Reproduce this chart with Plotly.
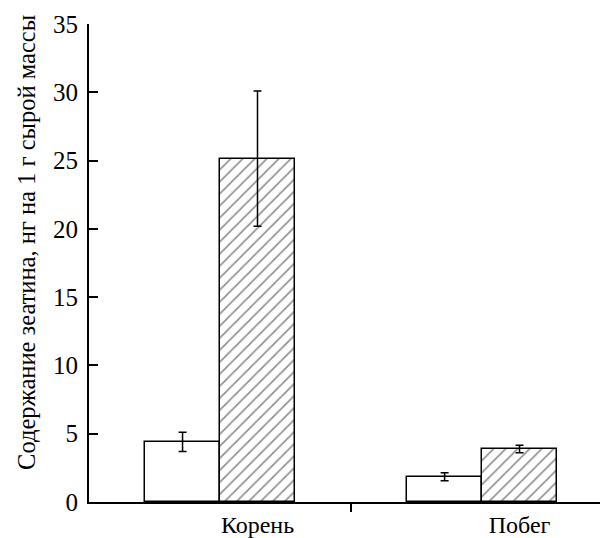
import plotly.graph_objects as go

categories = ["Корень", "Побег"]
control_vals = [4.4, 1.85]
control_err = [0.7, 0.3]
treated_vals = [25.15, 3.88]
treated_err = [4.95, 0.27]
y_ticks = [0, 5, 10, 15, 20, 25, 30, 35]
y_title = "Содержание зеатина, нг на 1 г сырой массы"

bar_w = 0.286
gx = list(range(len(categories)))
x_ctrl = [g - bar_w / 2 for g in gx]
x_trt = [g + bar_w / 2 for g in gx]

font = "'Liberation Serif', 'Times New Roman', serif"

fig = go.Figure()
fig.add_trace(go.Bar(
    x=x_ctrl, y=control_vals, width=bar_w,
    marker=dict(color="white", line=dict(color="black", width=1.5)),
    error_y=dict(type="data", array=control_err, color="black", thickness=1.5, width=4),
    showlegend=False,
))
fig.add_trace(go.Bar(
    x=x_trt, y=treated_vals, width=bar_w,
    marker=dict(color="white", line=dict(color="black", width=1.5),
                pattern=dict(shape="/", size=8.5, solidity=0.2, fgcolor="#222222", bgcolor="white")),
    error_y=dict(type="data", array=treated_err, color="black", thickness=1.5, width=4),
    showlegend=False,
))

fig.update_layout(
    width=605, height=538,
    margin=dict(l=89, r=5, t=24, b=36, autoexpand=False),
    plot_bgcolor="white", paper_bgcolor="white",
    bargap=0, barmode="overlay",
    font=dict(family=font, size=25, color="black"),
    xaxis=dict(
        range=[-0.5, 1.45], showgrid=False, zeroline=False,
        showline=True, linecolor="black", linewidth=2,
        tickvals=x_trt, ticktext=categories, ticks="", ticklen=0,
        tickfont=dict(family=font, size=24),
        minor=dict(tickvals=[0.5], ticks="outside", ticklen=8, tickwidth=1.5, tickcolor="black"),
        automargin=False,
    ),
    yaxis=dict(
        range=[0, 35], tickvals=y_ticks, showgrid=False, zeroline=False,
        showline=True, linecolor="black", linewidth=2,
        ticks="inside", ticklen=9, tickwidth=1.5, tickcolor="black",
        tickfont=dict(family=font, size=25), ticklabelstandoff=4,
        automargin=False,
    ),
    annotations=[dict(
        text=y_title, xref="paper", yref="paper", x=0, y=0.542,
        xanchor="center", yanchor="middle", xshift=-62, textangle=-90,
        showarrow=False, font=dict(family=font, size=24.5, color="black"),
    )],
)

fig.write_html("out.html", config={"displayModeBar": False},
               post_script="document.body.style.margin='0';")
